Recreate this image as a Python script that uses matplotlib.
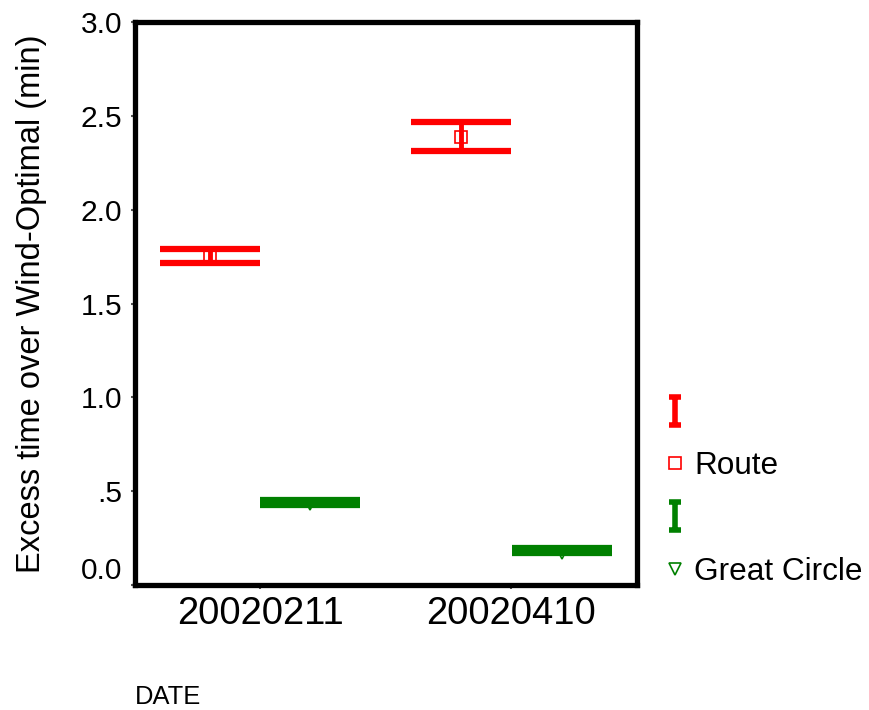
import matplotlib
matplotlib.use("Agg")
import matplotlib.pyplot as plt
from matplotlib.lines import Line2D
from matplotlib.path import Path
from matplotlib.transforms import ScaledTranslation

plt.rcParams['font.family'] = ['Liberation Sans', 'DejaVu Sans']

# data
dates = ["20020211", "20020410"]
route_mean = [1.755, 2.385]
route_low = [1.718, 2.311]
route_high = [1.793, 2.467]
gc_mean = [0.432, 0.172]
gc_low = [0.427, 0.171]
gc_high = [0.454, 0.197]

red = "#ff0000"
green = "#008000"

fig = plt.figure(figsize=(8.69, 7.10), dpi=100)
ax = fig.add_axes([0.155, 0.176, 0.578, 0.793])

xpos = [1, 2]
off = 0.2
xr = [x - off for x in xpos]
xg = [x + off for x in xpos]

def errs(mean, low, high):
    return [[m - l for m, l in zip(mean, low)], [h - m for m, h in zip(mean, high)]]

# means under the bars
ax.plot(xr, route_mean, ls='none', marker='s', ms=9, mfc='white', mec=red, mew=1.2, zorder=2)
ax.plot(xg, gc_mean, ls='none', marker='v', ms=9, mfc='white', mec=green, mew=1.2, zorder=2)

ax.errorbar(xr, route_mean, yerr=errs(route_mean, route_low, route_high), fmt='none',
            ecolor=red, elinewidth=3.5, capsize=36, capthick=4.5, zorder=3)
ax.errorbar(xg, gc_mean, yerr=errs(gc_mean, gc_low, gc_high), fmt='none',
            ecolor=green, elinewidth=3.5, capsize=36, capthick=4.5, zorder=3)

ax.set_xlim(0.5, 2.5)
ax.set_ylim(0, 3.0)
ax.set_xticks(xpos)
ax.set_xticklabels(dates, fontsize=27.5)
ax.set_yticks([0, 0.5, 1.0, 1.5, 2.0, 2.5, 3.0])
ax.set_yticklabels(["0.0", ".5", "1.0", "1.5", "2.0", "2.5", "3.0"], fontsize=21.5)
ax.tick_params(axis='both', direction='out', length=3, width=1.5, color='#555555')
ax.tick_params(axis='y', pad=6)
ax.tick_params(axis='x', pad=5)
for s in ax.spines.values():
    s.set_linewidth(3.8)

# shift the 0.0 label up off the corner
lab0 = ax.get_yticklabels()[0]
lab0.set_transform(lab0.get_transform() + ScaledTranslation(0, 0.17, fig.dpi_scale_trans))

ax.set_ylabel("Excess time over Wind-Optimal (min)", fontsize=23.5, labelpad=24)
fig.text(135 / 869, 1 - 697 / 710, "DATE", fontsize=18.4, va='center', ha='left')

ibar = Path([(-0.4, 1), (0.4, 1), (0, 1), (0, -1), (-0.4, -1), (0.4, -1)],
            [Path.MOVETO, Path.LINETO, Path.MOVETO, Path.LINETO, Path.MOVETO, Path.LINETO])
handles = [
    Line2D([], [], ls='none', marker=ibar, ms=20, mec=red, mew=4),
    Line2D([], [], ls='none', marker='s', ms=9, mfc='white', mec=red, mew=1.2),
    Line2D([], [], ls='none', marker=ibar, ms=20, mec=green, mew=4),
    Line2D([], [], ls='none', marker='v', ms=9, mfc='white', mec=green, mew=1.2),
]
fig.legend(handles, ["", "Route", "", "Great Circle"], loc='upper left',
           bbox_to_anchor=(647 / 869, 1 - 383 / 710), frameon=False, fontsize=22.7,
           handlelength=0.8, handletextpad=0.2, labelspacing=0.72, borderpad=0)

fig.savefig("out.png", dpi=100)
